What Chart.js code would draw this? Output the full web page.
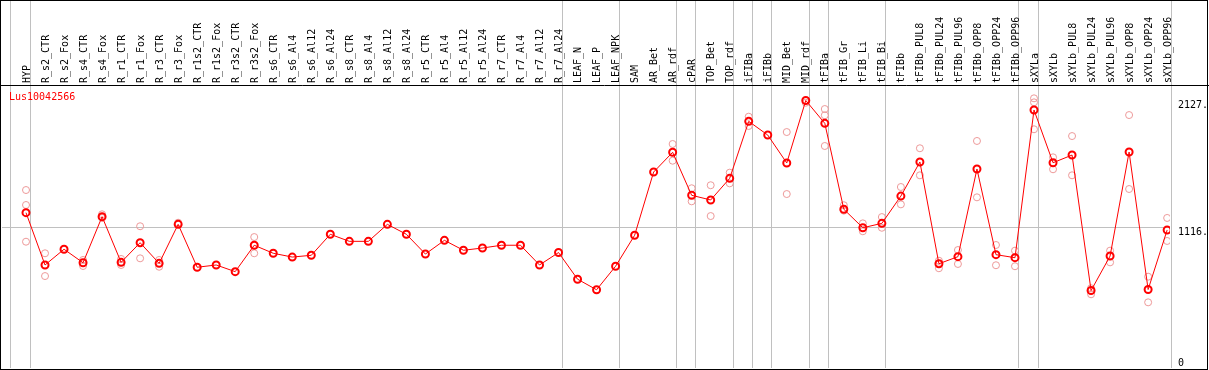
<!DOCTYPE html>
<html>
<head>
<meta charset="utf-8">
<script src="https://cdn.jsdelivr.net/npm/chart.js@4.4.1/dist/chart.umd.min.js"></script>
<style>
  html, body { margin: 0; padding: 0; background: #fff; }
  #wrap { width: 1209px; height: 370px; }
</style>
</head>
<body>
<div id="wrap"><canvas id="geneChart" width="1209" height="370"></canvas></div>
<script>
const geneName = 'Lus10042566';

const categories = [
    'HYP', 'R_s2_CTR', 'R_s2_Fox', 'R_s4_CTR', 'R_s4_Fox', 'R_r1_CTR', 'R_r1_Fox',
    'R_r3_CTR', 'R_r3_Fox', 'R_r1s2_CTR', 'R_r1s2_Fox', 'R_r3s2_CTR', 'R_r3s2_Fox',
    'R_s6_CTR', 'R_s6_Al4', 'R_s6_Al12', 'R_s6_Al24', 'R_s8_CTR', 'R_s8_Al4',
    'R_s8_Al12', 'R_s8_Al24', 'R_r5_CTR', 'R_r5_Al4', 'R_r5_Al12', 'R_r5_Al24',
    'R_r7_CTR', 'R_r7_Al4', 'R_r7_Al12', 'R_r7_Al24', 'LEAF_N', 'LEAF_P', 'LEAF_NPK',
    'SAM', 'AR_Bet', 'AR_rdf', 'cPAR', 'TOP_Bet', 'TOP_rdf', 'iFIBa', 'iFIBb',
    'MID_Bet', 'MID_rdf', 'tFIBa', 'tFIB_Gr', 'tFIB_Li', 'tFIB_Bi', 'tFIBb',
    'tFIBb_PUL8', 'tFIBb_PUL24', 'tFIBb_PUL96', 'tFIBb_OPP8', 'tFIBb_OPP24', 'tFIBb_OPP96',
    'sXYLa', 'sXYLb', 'sXYLb_PUL8', 'sXYLb_PUL24', 'sXYLb_PUL96', 'sXYLb_OPP8',
    'sXYLb_OPP24', 'sXYLb_OPP96'
];

// mean expression per sample
const means = [
    1235, 819, 944, 837, 1203, 840, 996, 832, 1142, 801, 819, 766, 976,
    912, 882, 896, 1063, 1007, 1007, 1142, 1063, 906, 1015, 936, 954,
    976, 976, 819, 918, 706, 622, 809,
    1055, 1558, 1715, 1373, 1336, 1508, 1961, 1852, 1630, 2127, 1945,
    1262, 1115, 1150, 1367, 1638, 829, 885, 1582, 901, 877,
    2051, 1632, 1693, 616, 890, 1717, 624, 1097
];

// single replicates (only the ones that stand out from the mean)
const replicates = [
    [1415, 1296, 1004], [912, 731], [], [859, 811], [1222, 1193], [867, 819], [1127, 872],
    [859, 805], [1155], [], [], [], [1041, 912],
    [], [], [], [], [], [], [], [], [], [], [], [],
    [], [], [], [], [], [], [],
    [], [], [1781, 1648], [1429, 1325], [1453, 1208], [1553, 1468], [1998, 1924], [],
    [1876, 1383], [2109], [2059, 2009, 1765],
    [1294, 1251], [1150, 1087], [1200, 1115], [1439, 1301], [1747, 1532], [853, 793],
    [938, 827], [1805, 1357], [978, 817], [933, 809],
    [2144, 2112, 1898], [1675, 1580], [1844, 1532], [634, 586], [933, 840],
    [2011, 1423], [726, 522], [1193, 1010]
];

const yTicks = [1116, 2127];
const yMax = 2242;

// separators are drawn after these sample indexes
const groupEnds = [-1, 0, 28, 31, 34, 35, 37, 38, 39, 41, 42, 45, 52, 53, 60];

Chart.defaults.font.family = "'DejaVu Sans Mono', monospace";
Chart.defaults.font.size = 10;
Chart.defaults.color = '#000';

function noPadding(scale) {
    scale.paddingLeft = 0;
    scale.paddingRight = 0;
    scale.paddingTop = 0;
    scale.paddingBottom = 0;
}

// background, separators, frame and gene name
const decor = {
    id: 'decor',
    beforeDraw(chart) {
        const ctx = chart.ctx;
        const xs = chart.scales.x;
        const area = chart.chartArea;
        ctx.save();
        ctx.fillStyle = '#fff';
        ctx.fillRect(0, 0, chart.width, chart.height);
        ctx.strokeStyle = '#c0c0c0';
        ctx.lineWidth = 1;
        groupEnds.forEach(function (i) {
            const px = Math.round(xs.getPixelForValue(i) + 3.5) + 0.5;
            ctx.beginPath();
            ctx.moveTo(px, 0);
            ctx.lineTo(px, area.bottom);
            ctx.stroke();
        });
        ctx.restore();
    },
    afterDraw(chart) {
        const ctx = chart.ctx;
        const area = chart.chartArea;
        ctx.save();
        ctx.strokeStyle = '#000';
        ctx.lineWidth = 1;
        ctx.beginPath();
        ctx.moveTo(0, area.top - 0.5);
        ctx.lineTo(chart.width, area.top - 0.5);
        ctx.stroke();
        ctx.strokeRect(0.5, 0.5, 1207, 369);
        ctx.fillStyle = '#ff0000';
        ctx.font = "10px 'DejaVu Sans Mono', monospace";
        ctx.textBaseline = 'top';
        ctx.fillText(chart.data.datasets[0].label, area.left + 7, area.top + 6);
        ctx.restore();
    }
};

const ctx = document.getElementById('geneChart').getContext('2d');
const geneChart = new Chart(ctx, {
    data: {
        datasets: [
            {
                type: 'line',
                label: geneName,
                data: means.map((v, i) => ({ x: i, y: v })),
                borderColor: '#ff0000',
                borderWidth: 1,
                tension: 0,
                pointRadius: 3.5,
                pointBorderWidth: 2,
                pointBorderColor: '#ff0000',
                pointBackgroundColor: 'rgba(0,0,0,0)',
                xAxisID: 'x',
                yAxisID: 'y'
            },
            {
                type: 'scatter',
                label: 'replicates',
                data: replicates.flatMap((vals, i) => vals.map(v => ({ x: i, y: v }))),
                pointRadius: 3.5,
                pointBorderWidth: 1,
                pointBorderColor: '#ee9a9a',
                pointBackgroundColor: 'rgba(0,0,0,0)',
                xAxisID: 'x',
                yAxisID: 'y'
            }
        ]
    },
    options: {
        responsive: false,
        animation: false,
        layout: { autoPadding: false, padding: { left: 2, right: 0, top: 0, bottom: 2 } },
        plugins: {
            legend: { display: false },
            tooltip: { enabled: false }
        },
        scales: {
            x: {
                type: 'linear',
                display: false,
                min: -1.262,
                max: 60.15
            },
            x2: {
                type: 'linear',
                position: 'top',
                min: -1.262,
                max: 60.15,
                afterBuildTicks: function (scale) {
                    scale.ticks = categories.map((c, i) => ({ value: i }));
                },
                afterFit: function (scale) {
                    scale.height = 86;
                    noPadding(scale);
                },
                grid: { display: false, drawTicks: false },
                border: { display: false },
                ticks: {
                    autoSkip: false,
                    minRotation: 90,
                    maxRotation: 90,
                    padding: 3,
                    labelOffset: 13,
                    callback: function (v) { return categories[v]; }
                }
            },
            yZero: {
                type: 'linear',
                position: 'right',
                weight: 0,
                min: 0,
                max: yMax,
                afterBuildTicks: function (scale) { scale.ticks = [{ value: 0 }]; },
                afterFit: function (scale) {
                    scale.width = 0;
                    noPadding(scale);
                },
                grid: { display: false, drawTicks: false },
                border: { display: false },
                ticks: {
                    mirror: true,
                    crossAlign: 'near',
                    padding: 14,
                    align: 'end',
                    callback: function () { return '0'; }
                }
            },
            y: {
                type: 'linear',
                position: 'right',
                weight: 1,
                min: 0,
                max: yMax,
                afterBuildTicks: function (scale) {
                    scale.ticks = yTicks.map(v => ({ value: v }));
                },
                afterFit: function (scale) {
                    scale.width = 39;
                    noPadding(scale);
                },
                grid: {
                    drawTicks: false,
                    color: function (c) {
                        return c.tick && c.tick.value === yTicks[0] ? '#c0c0c0' : 'rgba(0,0,0,0)';
                    }
                },
                border: { display: false },
                ticks: {
                    padding: 8,
                    align: 'start',
                    callback: function (v) { return v + '.'; }
                }
            }
        }
    },
    plugins: [decor]
});
</script>
</body>
</html>
